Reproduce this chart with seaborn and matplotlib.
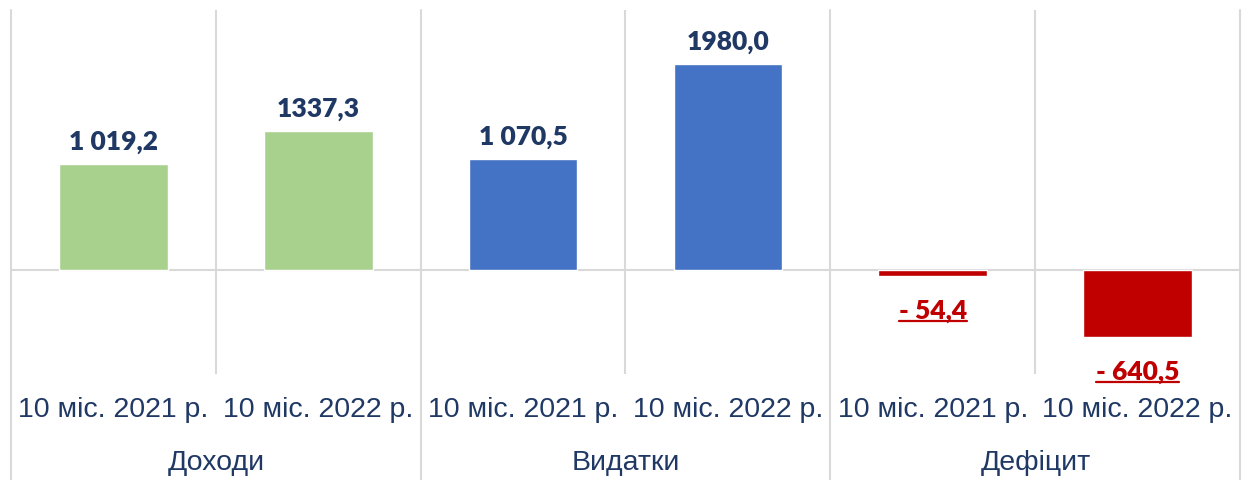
import matplotlib
matplotlib.use('Agg')
import matplotlib.pyplot as plt
import seaborn as sns
import pandas as pd
from matplotlib.lines import Line2D

# дані
groups = ['Доходи', 'Видатки', 'Дефіцит']
periods = ['10 міс. 2021 р.', '10 міс. 2022 р.']
values = [1019.2, 1337.3, 1070.5, 1980.0, -54.4, -640.5]
value_labels = ['1 019,2', '1337,3', '1 070,5', '1980,0', '- 54,4', '- 640,5']
bar_colors = ['#A9D18E', '#A9D18E', '#4472C4', '#4472C4', '#C00000', '#C00000']

keys = [f'{g} {p}' for g in groups for p in periods]
df = pd.DataFrame({'key': keys, 'value': values})

sns.set_theme(style='white')
plt.rcParams['font.family'] = ['Liberation Sans', 'DejaVu Sans']

W, H = 1248, 481
navy = '#1F3864'
red = '#C00000'
grid = '#D9D9D9'

fig = plt.figure(figsize=(W / 100, H / 100), dpi=100)
ax = fig.add_axes([11 / W, 106 / H, 1229 / W, 364 / H])
sns.barplot(data=df, x='key', y='value', hue='key', palette=bar_colors,
            width=0.53, saturation=1, legend=False, ax=ax)

ax.set_xlim(-0.5, 5.5)
ax.set_ylim(-1000, 2500)
for s in ax.spines.values():
    s.set_visible(False)
ax.set_yticks([])
ax.set_xlabel('')
ax.set_ylabel('')

ax.axhline(0, color=grid, lw=1.5, zorder=0)
# лінії між стовпчиками
for x in [0.5, 2.5, 4.5]:
    ax.axvline(x, color=grid, lw=1.5, zorder=0)
# лінії між групами (до низу рисунка)
for x in [-0.5, 1.5, 3.5, 5.5]:
    ax.axvline(x, ymin=-106 / 364, ymax=1, color=grid, lw=1.5, zorder=0, clip_on=False)

ax.set_xticks(range(6))
ax.set_xticklabels(periods * 3, fontsize=20.5, color=navy)
ax.tick_params(axis='x', length=0, pad=16)

for i, g in enumerate(groups):
    fig.text((11 + 205 * (2 * i + 1)) / W, 18 / H, g, ha='center', va='center',
             fontsize=20.5, color=navy)

texts = []
for i, (v, lab) in enumerate(zip(values, value_labels)):
    if v > 0:
        t = ax.annotate(lab, (i, v), xytext=(0, 8), textcoords='offset points',
                        ha='center', va='bottom', fontsize=19, fontweight='heavy',
                        family='Lato', color=navy)
    else:
        t = ax.annotate(lab, (i, v), xytext=(0, -16), textcoords='offset points',
                        ha='center', va='top', fontsize=19, fontweight='heavy',
                        family='Lato', color=red)
        texts.append(t)

# підкреслення від'ємних значень
fig.canvas.draw()
r = fig.canvas.get_renderer()
for t in texts:
    bb = t.get_window_extent(r)
    y = bb.y0 + 1
    fig.add_artist(Line2D([bb.x0 / W, bb.x1 / W], [y / H, y / H],
                          transform=fig.transFigure, color=red, lw=1.6))

fig.savefig('out.png', dpi=100)
